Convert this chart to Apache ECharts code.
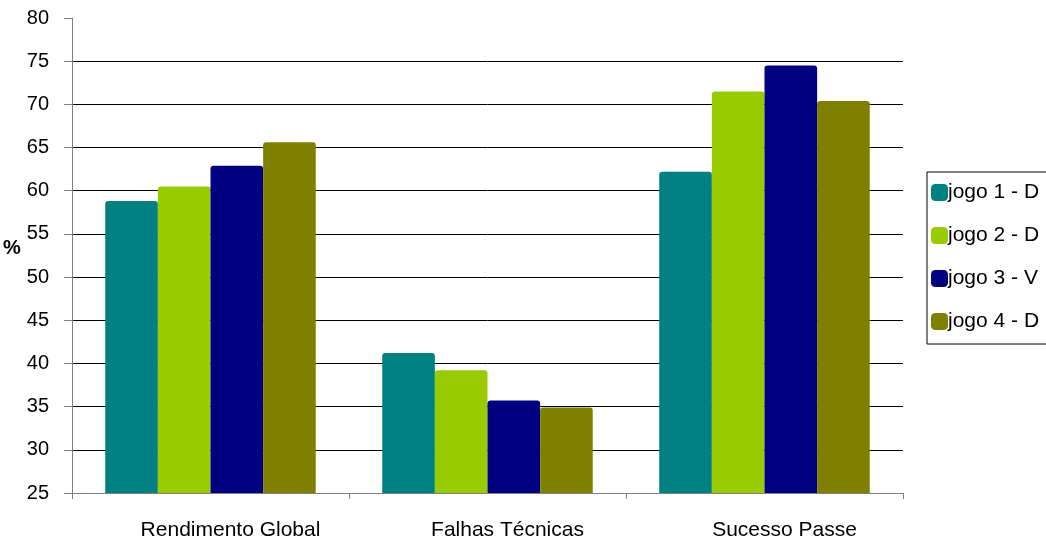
<!DOCTYPE html>
<html><head><meta charset="utf-8">
<script src="https://cdn.jsdelivr.net/npm/echarts@6/dist/echarts.min.js"></script>
<style>html,body{margin:0;padding:0;background:#fff}#c{width:1046px;height:546px}</style>
</head><body><div id="c"></div>
<script>
const categories = ['Rendimento Global', 'Falhas Técnicas', 'Sucesso Passe'];
const seriesNames = ['jogo 1 - D', 'jogo 2 - D', 'jogo 3 - V', 'jogo 4 - D'];
const jogo1 = [58.8, 41.2, 62.2];
const jogo2 = [60.5, 39.2, 71.5];
const jogo3 = [62.9, 35.7, 74.5];
const jogo4 = [65.6, 34.9, 70.4];
const colors = ['#008080', '#99CC00', '#000080', '#808000'];
const allValues = [jogo1, jogo2, jogo3, jogo4];
const font = '"Liberation Sans", Arial, sans-serif';

const chart = echarts.init(document.getElementById('c'));
chart.setOption({
  animation: false,
  textStyle: { fontFamily: font },
  grid: { left: 72, right: 143, top: 18, bottom: 53, containLabel: false },
  legend: {
    orient: 'vertical', left: 927, top: 172,
    padding: [10, 40, 12, 4],
    borderColor: '#000', borderWidth: 1,
    itemWidth: 17, itemHeight: 17, itemGap: 22,
    textStyle: { fontSize: 21, color: '#000', fontFamily: font, padding: [0, 0, 0, -5] },
    icon: 'roundRect',
    data: seriesNames
  },
  xAxis: {
    type: 'category', data: categories,
    axisLine: { lineStyle: { color: '#808080', width: 1 } },
    axisTick: { show: true, length: 6, lineStyle: { color: '#808080' } },
    axisLabel: { fontSize: 21, color: '#000', margin: 27, fontFamily: font, padding: [0, 0, 0, 40] }
  },
  yAxis: {
    type: 'value', min: 25, max: 80, interval: 5,
    name: '%', nameLocation: 'middle', nameGap: 62, nameRotate: 0,
    nameTextStyle: { fontSize: 20, fontWeight: 'bold', color: '#000', fontFamily: font, align: 'left', verticalAlign: 'bottom', padding: [0, 0, -3, 8] },
    axisLine: { show: true, lineStyle: { color: '#808080' } },
    axisTick: { show: true, length: 8, lineStyle: { color: '#808080' } },
    axisLabel: { fontSize: 20, color: '#000', margin: 23, fontFamily: font },
    splitLine: { show: true, showMinLine: false, showMaxLine: false, lineStyle: { color: '#000', width: 1 } }
  },
  series: seriesNames.map((n, i) => ({
    name: n, type: 'bar', data: allValues[i],
    barGap: '0%', barCategoryGap: '24%',
    itemStyle: { color: colors[i], borderRadius: [3, 3, 0, 0] }
  }))
});
</script></body></html>
